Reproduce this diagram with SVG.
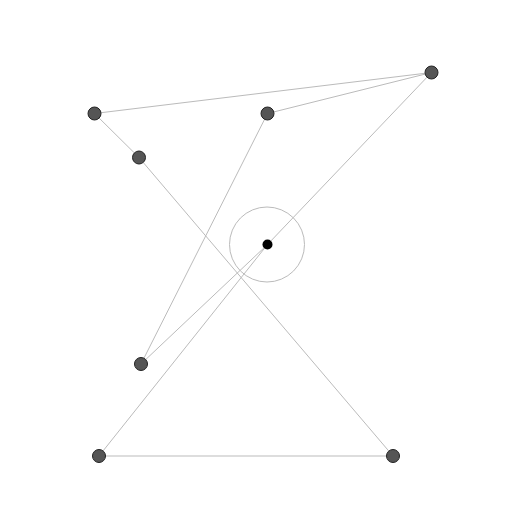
<svg xmlns="http://www.w3.org/2000/svg" width="516" height="522" viewBox="0 0 516 522">
<style>
.edge{stroke:#bbb;stroke-width:1;fill:none}
.node{fill:#555;stroke:#222;stroke-width:1}
.ring{fill:none;stroke:#bbb;stroke-width:1}
</style>
<rect width="516" height="522" fill="#fff"/>
<g id="connectors">
<line class="edge" x1="94.5" y1="113.5" x2="431.5" y2="72.5"/>
<line class="edge" x1="267.5" y1="113.5" x2="431.5" y2="72.5"/>
<line class="edge" x1="431.5" y1="72.5" x2="267.5" y2="244.5"/>
<line class="edge" x1="267.5" y1="244.5" x2="99" y2="456"/>
<line class="edge" x1="267.5" y1="244.5" x2="141" y2="364"/>
<line class="edge" x1="267.5" y1="113.5" x2="141" y2="364"/>
<line class="edge" x1="94.5" y1="113.5" x2="139" y2="157.5"/>
<line class="edge" x1="139" y1="157.5" x2="393" y2="456"/>
<line class="edge" x1="99" y1="456" x2="393" y2="456"/>
</g>
<g id="center">
<circle class="ring" cx="267" cy="244.5" r="37.5"/>
<circle cx="267.5" cy="244.5" r="5" fill="#000"/>
</g>
<g id="n1"><circle class="node" cx="94.5" cy="113.5" r="6.5"/></g>
<g id="n2"><circle class="node" cx="267.5" cy="113.5" r="6.5"/></g>
<g id="n3"><circle class="node" cx="431.5" cy="72.5" r="6.5"/></g>
<g id="n4"><circle class="node" cx="139" cy="157.5" r="6.5"/></g>
<g id="n5"><circle class="node" cx="141" cy="364" r="6.5"/></g>
<g id="n6"><circle class="node" cx="99" cy="456" r="6.5"/></g>
<g id="n7"><circle class="node" cx="393" cy="456" r="6.5"/></g>
</svg>
